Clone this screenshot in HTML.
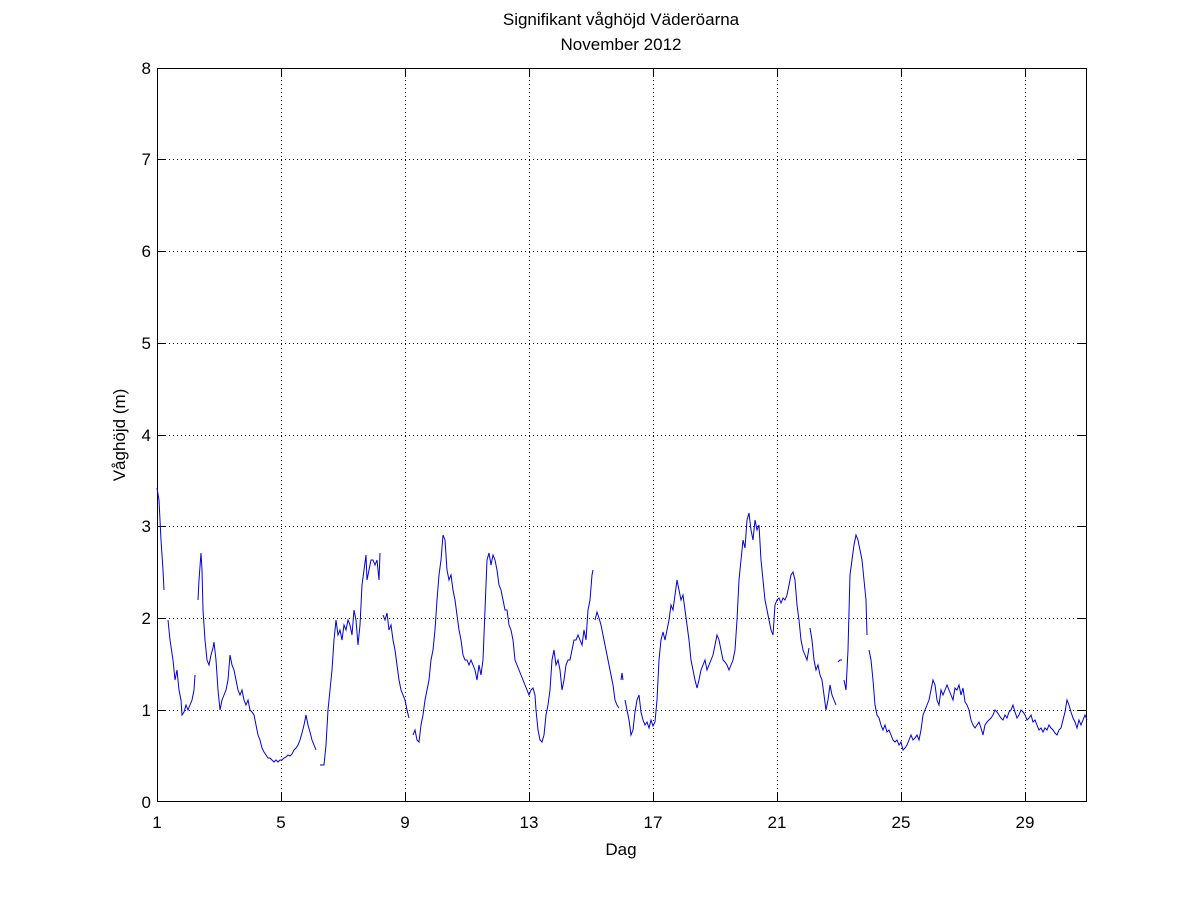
<!DOCTYPE html>
<html><head><style>
html,body{margin:0;padding:0;background:#fff;}
svg{display:block;font-family:"Liberation Sans",Arial,sans-serif;}
</style></head><body>
<svg width="1201" height="901" xmlns="http://www.w3.org/2000/svg">
<rect width="1201" height="901" fill="#fff"/>
<g stroke="#000" stroke-width="1" stroke-dasharray="1,3" shape-rendering="crispEdges">
<line x1="281.5" y1="68" x2="281.5" y2="802"/>
<line x1="405.5" y1="68" x2="405.5" y2="802"/>
<line x1="529.5" y1="68" x2="529.5" y2="802"/>
<line x1="653.5" y1="68" x2="653.5" y2="802"/>
<line x1="777.5" y1="68" x2="777.5" y2="802"/>
<line x1="901.5" y1="68" x2="901.5" y2="802"/>
<line x1="1025.5" y1="68" x2="1025.5" y2="802"/>
<line x1="157" y1="710.5" x2="1087" y2="710.5"/>
<line x1="157" y1="618.5" x2="1087" y2="618.5"/>
<line x1="157" y1="526.5" x2="1087" y2="526.5"/>
<line x1="157" y1="435.5" x2="1087" y2="435.5"/>
<line x1="157" y1="343.5" x2="1087" y2="343.5"/>
<line x1="157" y1="251.5" x2="1087" y2="251.5"/>
<line x1="157" y1="159.5" x2="1087" y2="159.5"/>
</g>
<g stroke="#000" stroke-width="1" fill="none" shape-rendering="crispEdges">
<rect x="157.5" y="68.5" width="929" height="733"/>
<path d="M281.5 802v-9M405.5 802v-9M529.5 802v-9M653.5 802v-9M777.5 802v-9M901.5 802v-9M1025.5 802v-9
M281.5 68v9M405.5 68v9M529.5 68v9M653.5 68v9M777.5 68v9M901.5 68v9M1025.5 68v9
M157 710.5h9M157 618.5h9M157 526.5h9M157 435.5h9M157 343.5h9M157 251.5h9M157 159.5h9
M1087 710.5h-9M1087 618.5h-9M1087 526.5h-9M1087 435.5h-9M1087 343.5h-9M1087 251.5h-9M1087 159.5h-9"/>
</g>
<g fill="none" stroke="#0000e0" stroke-width="1">
<polyline points="157,488 159,500 161,540 163,570 164,590"/>
<polyline points="168,620 170,640 173,660 175,680 177,670 179,690 181,700 182,715 184,712 186,705 188,710 190,705 192,700 194,690 195,675"/>
<polyline points="198,600 199,580 201,553 202,570 203,610 205,640 207,660 209,665 211,655 213,648 214,642 216,660 218,690 220,710 222,700 224,695 226,690 228,680 230,655 232,665 234,670 236,680 238,690 240,695 242,690 244,700 246,705 248,700 250,710 252,712 254,715 256,725 258,735 260,740 262,748 264,752 266,755 268,758 270,758 272,760 274,762 276,760 278,762 280,760 282,760 284,758 286,757 288,755 290,756 292,754 294,750 296,748 298,745 300,740 302,733 304,725 306,715 308,725 310,732 312,740 314,745 316,750"/>
<polyline points="320,765 324,765 326,745 328,710 330,690 332,670 334,640 336,620 338,635 340,630 342,640 344,625 346,630 348,620 350,625 352,635 354,610 356,620 358,645 360,625 362,585 364,570 366,555 367,580 369,570 371,560 373,560 375,565 377,560 379,580 380,553"/>
<polyline points="383,615 385,620 387,613 389,630 391,625 393,640 395,650 397,665 399,680 401,690 403,695 405,700 407,710 409,718"/>
<polyline points="413,735 415,730 417,740 419,742 421,725 423,715 425,700 427,690 429,680 431,660 433,650 435,630 437,600 439,575 441,560 443,535 445,540 447,570 449,580 451,575 453,590 455,600 457,615 459,630 461,640 463,655 465,660 467,660 469,665 471,660 473,665 475,670 477,680 479,665 481,675 483,660 485,610 487,560 489,553 491,565 493,555 495,560 497,570 499,585 501,590 503,600 505,610 507,610 509,625 511,630 513,640 515,660 517,665 519,670 521,675 523,680 525,685 527,690 529,695 531,690 533,688 535,695 536,710 538,730 540,740 542,742 544,735 546,715 548,705 550,690 552,660 554,650 556,665 558,660 560,670 562,690 564,680 566,665 568,660 570,660 572,650 574,640 576,640 578,635 580,640 582,645 584,630 586,640 588,610 590,600 592,575 593,570"/>
<polyline points="595,620 597,612 599,618 601,625 603,635 605,645 607,655 609,665 611,675 613,685 615,700 617,705 619,708"/>
<polyline points="621,680 622,673 623,680"/>
<polyline points="625,700 627,710 629,720 631,735 633,730 635,712 637,700 639,695 641,712 643,720 645,725 647,722 649,728 651,720 653,726 655,722 657,700 659,660 661,640 663,632 665,640 667,630 669,620 671,605 673,610 675,595 677,580 679,590 681,600 683,595 685,610 687,625 689,640 691,660 693,670 695,680 697,688 699,680 701,670 703,665 705,660 707,670 709,665 711,660 713,655 715,645 717,635 719,640 721,650 723,660 725,662 727,665 729,670 731,665 733,660 735,650 737,620 739,580 741,560 743,540 745,548 747,520 749,513 751,530 753,540 755,520 757,530 759,525 761,560 763,580 765,600 767,610 769,620 771,630 773,635 775,605 777,600 779,598 781,603 783,598 785,600 787,595 789,585 791,575 793,572 795,580 797,605 799,620 801,640 803,650 805,655 807,660 809,648"/>
<polyline points="810,628 812,640 814,660 816,670 818,665 820,675 822,680 824,695 826,710 828,700 830,685 832,695 834,700 836,705"/>
<polyline points="838,662 840,660 842,660"/>
<polyline points="844,680 846,690 848,650 850,575 852,560 854,545 856,535 858,540 860,550 862,560 864,580 866,600 867,635"/>
<polyline points="869,650 871,660 873,680 875,705 877,715 879,718 881,725 883,730 885,725 887,732 889,730 891,735 893,740 895,742 897,740 899,745 901,742 903,750 905,748 907,745 909,740 911,735 913,740 915,738 917,735 919,740 921,730 923,715 925,710 927,705 929,700 931,690 933,680 935,685 937,700 939,705 941,690 943,695 945,690 947,685 949,690 951,695 953,700 955,688 957,690 959,685 961,695 963,688 965,702 967,705 969,710 971,720 973,725 975,728 977,725 979,722 981,728 983,735 985,725 987,722 989,720 991,718 993,715 995,710 997,712 999,715 1001,718 1003,720 1005,715 1007,718 1009,712 1011,710 1013,705 1015,712 1017,718 1019,715 1021,710 1023,712 1025,715 1027,720 1029,718 1031,715 1033,722 1035,720 1037,725 1039,730 1041,728 1043,732 1045,728 1047,730 1049,725 1051,728 1053,730 1055,733 1057,735 1059,730 1061,728 1063,720 1065,712 1067,700 1069,705 1071,712 1073,718 1075,722 1077,728 1079,720 1081,725 1083,720 1085,715 1087,720"/>
</g>
<g font-size="17" fill="#000" text-anchor="end">
<text x="151" y="808">0</text>
<text x="151" y="716">1</text>
<text x="151" y="624">2</text>
<text x="151" y="532">3</text>
<text x="151" y="441">4</text>
<text x="151" y="349">5</text>
<text x="151" y="257">6</text>
<text x="151" y="165">7</text>
<text x="151" y="74">8</text>
</g>
<g font-size="17" fill="#000" text-anchor="middle">
<text x="157" y="828">1</text>
<text x="281" y="828">5</text>
<text x="405" y="828">9</text>
<text x="529" y="828">13</text>
<text x="653" y="828">17</text>
<text x="777" y="828">21</text>
<text x="901" y="828">25</text>
<text x="1025" y="828">29</text>
<text x="621" y="855">Dag</text>
<text x="621" y="25">Signifikant våghöjd Väderöarna</text>
<text x="621" y="50">November 2012</text>
<text transform="translate(125,435) rotate(-90)">Våghöjd (m)</text>
</g>
</svg>
</body></html>
